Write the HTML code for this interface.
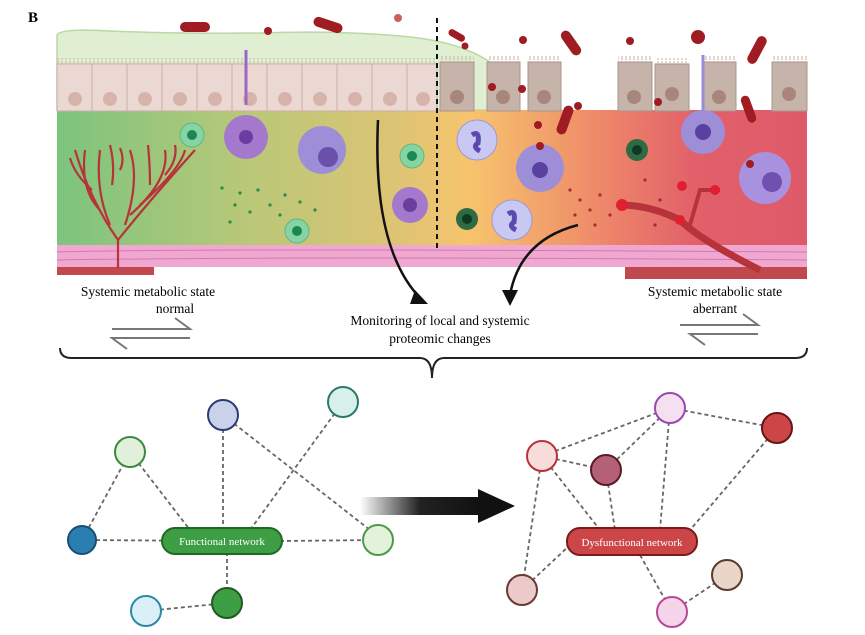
<!DOCTYPE html>
<html><head><style>
body{margin:0;background:#fff;}
svg{display:block;}
text{font-family:"Liberation Serif",serif;}
</style></head><body>
<svg width="865" height="635" viewBox="0 0 865 635" xmlns="http://www.w3.org/2000/svg">
<defs>
<linearGradient id="tis" x1="0" x2="1" y1="0" y2="0">
<stop offset="0" stop-color="#7cc47e"/>
<stop offset="0.25" stop-color="#b8c878"/>
<stop offset="0.45" stop-color="#dcc474"/>
<stop offset="0.55" stop-color="#f7c46c"/>
<stop offset="0.72" stop-color="#ee8a6a"/>
<stop offset="0.85" stop-color="#e2606a"/>
<stop offset="1" stop-color="#de5a6a"/>
</linearGradient>
<linearGradient id="arr" x1="0" x2="1">
<stop offset="0" stop-color="#fff"/>
<stop offset="0.5" stop-color="#222"/>
<stop offset="1" stop-color="#111"/>
</linearGradient>
<pattern id="mv" width="4" height="6" patternUnits="userSpaceOnUse"><path d="M2,6 L2,1" stroke="#c9b0a8" stroke-width="1"/></pattern>
</defs>
<text x="28" y="22" font-size="15" font-weight="bold">B</text>
<path d="M57,35 Q60,28 110,31 Q180,34 260,33 Q340,30 410,37 Q460,42 490,62 L490,110 L57,110Z" fill="#e0efd2" stroke="#b8d8a4" stroke-width="1.5"/>
<rect x="57" y="110" width="750" height="140" fill="url(#tis)"/>
<rect x="57" y="58" width="380" height="6" fill="url(#mv)"/>
<rect x="57" y="64" width="380" height="47" fill="#ecd8d2" stroke="#c9b0a8"/>
<g stroke="#c9b0a8" stroke-width="1">
<line x1="92" y1="64" x2="92" y2="111"/><line x1="127" y1="64" x2="127" y2="111"/><line x1="162" y1="64" x2="162" y2="111"/><line x1="197" y1="64" x2="197" y2="111"/><line x1="232" y1="64" x2="232" y2="111"/><line x1="267" y1="64" x2="267" y2="111"/><line x1="302" y1="64" x2="302" y2="111"/><line x1="337" y1="64" x2="337" y2="111"/><line x1="372" y1="64" x2="372" y2="111"/><line x1="407" y1="64" x2="407" y2="111"/>
</g>
<g fill="#d7b4aa">
<circle cx="75" cy="99" r="7"/><circle cx="110" cy="99" r="7"/><circle cx="145" cy="99" r="7"/><circle cx="180" cy="99" r="7"/><circle cx="215" cy="99" r="7"/><circle cx="250" cy="99" r="7"/><circle cx="285" cy="99" r="7"/><circle cx="320" cy="99" r="7"/><circle cx="355" cy="99" r="7"/><circle cx="390" cy="99" r="7"/><circle cx="423" cy="99" r="7"/>
</g>
<g fill="#c6b3aa" stroke="#a8958c">
<rect x="440" y="62" width="34" height="49"/><rect x="487" y="62" width="33" height="49"/><rect x="528" y="62" width="33" height="49"/>
<rect x="618" y="62" width="34" height="49"/><rect x="655" y="64" width="34" height="47"/><rect x="702" y="62" width="34" height="49"/><rect x="772" y="62" width="35" height="49"/>
</g>
<g fill="url(#mv)"><rect x="440" y="56" width="34" height="6"/><rect x="487" y="56" width="33" height="6"/><rect x="528" y="56" width="33" height="6"/><rect x="618" y="56" width="34" height="6"/><rect x="655" y="58" width="34" height="6"/><rect x="702" y="56" width="34" height="6"/><rect x="772" y="56" width="35" height="6"/></g>
<g fill="#a8867c"><circle cx="457" cy="97" r="7"/><circle cx="503" cy="97" r="7"/><circle cx="544" cy="97" r="7"/><circle cx="634" cy="97" r="7"/><circle cx="672" cy="94" r="7"/><circle cx="719" cy="97" r="7"/><circle cx="789" cy="94" r="7"/></g>
<rect x="57" y="245" width="750" height="22" fill="#f0a8d0"/>
<g stroke="#d07ab4" stroke-width="1" fill="none"><path d="M57,252 Q200,248 807,252"/><path d="M57,260 Q300,256 807,260"/></g>
<rect x="57" y="267" width="97" height="8" fill="#c0484e"/>
<rect x="625" y="267" width="182" height="12" fill="#c0484e"/>
<g stroke="#b8323a" stroke-width="2.2" fill="none">
<path d="M118,268 L118,240 Q90,200 75,150"/><path d="M118,240 Q150,200 195,150"/><path d="M110,225 Q95,190 100,150"/><path d="M125,225 Q140,180 130,150"/><path d="M130,215 Q170,180 165,150"/><path d="M100,210 Q80,190 85,150"/><path d="M140,205 Q180,170 185,150"/>
<path d="M92,190 Q75,175 70,158"/><path d="M112,185 Q115,165 110,145"/><path d="M150,185 Q150,165 148,145"/><path d="M165,175 Q178,160 175,145"/><path d="M120,170 Q125,160 120,148"/>
</g>
<path d="M760,270 Q700,240 680,220 Q650,205 620,205" stroke="#b8323a" stroke-width="7" fill="none"/>
<path d="M690,225 L700,190 L720,190" stroke="#b8323a" stroke-width="4" fill="none"/>
<g fill="#e02030"><circle cx="622" cy="205" r="6"/><circle cx="680" cy="220" r="5"/><circle cx="682" cy="186" r="5"/><circle cx="715" cy="190" r="5"/></g>
<circle cx="192" cy="135" r="12" fill="#86d4a4" stroke="#5ab884"/><circle cx="192" cy="135" r="5" fill="#1a8850"/>
<circle cx="412" cy="156" r="12" fill="#86d4a4" stroke="#5ab884"/><circle cx="412" cy="156" r="5" fill="#1a8850"/>
<circle cx="297" cy="231" r="12" fill="#86d4a4" stroke="#5ab884"/><circle cx="297" cy="231" r="5" fill="#1a8850"/>
<circle cx="467" cy="219" r="11" fill="#2e6a44"/><circle cx="467" cy="219" r="5" fill="#0e3a20"/>
<circle cx="637" cy="150" r="11" fill="#2e6a44"/><circle cx="637" cy="150" r="5" fill="#0e3a20"/>
<path d="M246,50 L246,105" stroke="#9a68c4" stroke-width="3"/>
<circle cx="246" cy="137" r="22" fill="#a478cc"/><circle cx="246" cy="137" r="7" fill="#6a3ea0"/>
<circle cx="322" cy="150" r="24" fill="#9e8ed8"/><circle cx="328" cy="157" r="10" fill="#6a50aa"/>
<circle cx="410" cy="205" r="18" fill="#a478cc"/><circle cx="410" cy="205" r="7" fill="#6a3ea0"/>
<circle cx="477" cy="140" r="20" fill="#c8c8f2" stroke="#9a9ad8"/><path d="M472,135 q8,-5 6,8 q-6,4 2,8" stroke="#5a4ab0" stroke-width="5" fill="none"/>
<circle cx="512" cy="220" r="20" fill="#c8c8f2" stroke="#9a9ad8"/><path d="M508,214 q8,-5 6,8 q-6,4 2,8" stroke="#5a4ab0" stroke-width="5" fill="none"/>
<circle cx="540" cy="168" r="24" fill="#9e8ed8"/><circle cx="540" cy="170" r="8" fill="#5a40a0"/>
<path d="M703,55 L703,115" stroke="#9a88d8" stroke-width="3"/>
<circle cx="703" cy="132" r="22" fill="#9e8ed8"/><circle cx="703" cy="132" r="8" fill="#5a40a0"/>
<circle cx="765" cy="178" r="26" fill="#a892e0"/><circle cx="772" cy="182" r="10" fill="#7050b0"/>
<g fill="#2a8a48"><circle cx="222" cy="188" r="1.6"/><circle cx="240" cy="193" r="1.6"/><circle cx="258" cy="190" r="1.6"/><circle cx="235" cy="205" r="1.6"/><circle cx="250" cy="212" r="1.6"/><circle cx="270" cy="205" r="1.6"/><circle cx="285" cy="195" r="1.6"/><circle cx="300" cy="202" r="1.6"/><circle cx="230" cy="222" r="1.6"/><circle cx="280" cy="215" r="1.6"/><circle cx="315" cy="210" r="1.6"/></g>
<g fill="#a82a30"><circle cx="570" cy="190" r="1.6"/><circle cx="580" cy="200" r="1.6"/><circle cx="590" cy="210" r="1.6"/><circle cx="575" cy="215" r="1.6"/><circle cx="595" cy="225" r="1.6"/><circle cx="600" cy="195" r="1.6"/><circle cx="610" cy="215" r="1.6"/><circle cx="645" cy="180" r="1.6"/><circle cx="660" cy="200" r="1.6"/><circle cx="655" cy="225" r="1.6"/></g>
<g fill="#9e1c22">
<rect x="180" y="22" width="30" height="10" rx="5"/>
<rect x="313" y="20" width="30" height="10" rx="5" transform="rotate(18 328 25)"/>
<rect x="448" y="32" width="18" height="7" rx="3.5" transform="rotate(30 457 35)"/>
<rect x="557" y="38" width="28" height="10" rx="5" transform="rotate(55 571 43)"/>
<rect x="742" y="45" width="30" height="10" rx="5" transform="rotate(-62 757 50)"/>
<rect x="735" y="105" width="28" height="9" rx="4.5" transform="rotate(70 749 109)"/>
<rect x="550" y="115" width="30" height="10" rx="5" transform="rotate(-70 565 120)"/>
<circle cx="268" cy="31" r="4"/><circle cx="398" cy="18" r="4" fill="#c86060"/><circle cx="465" cy="46" r="3.5"/><circle cx="523" cy="40" r="4"/><circle cx="492" cy="87" r="4"/><circle cx="522" cy="89" r="4"/><circle cx="538" cy="125" r="4"/><circle cx="578" cy="106" r="4"/><circle cx="630" cy="41" r="4"/><circle cx="698" cy="37" r="7"/><circle cx="658" cy="102" r="4"/><circle cx="750" cy="164" r="4"/><circle cx="540" cy="146" r="4"/>
</g>
<line x1="437" y1="18" x2="437" y2="250" stroke="#111" stroke-width="2" stroke-dasharray="5,4"/>
<path d="M378,120 Q372,250 422,300" stroke="#111" stroke-width="2.5" fill="none"/>
<path d="M415,290 L428,304 L410,304Z" fill="#111"/>
<path d="M578,225 Q520,240 510,295" stroke="#111" stroke-width="2.5" fill="none"/>
<path d="M502,290 L510,306 L518,290Z" fill="#111"/>
<text x="148" y="296" font-size="13.5" text-anchor="middle">Systemic metabolic state</text>
<text x="175" y="313" font-size="13.5" text-anchor="middle">normal</text>
<text x="715" y="296" font-size="13.5" text-anchor="middle">Systemic metabolic state</text>
<text x="715" y="313" font-size="13.5" text-anchor="middle">aberrant</text>
<text x="440" y="325" font-size="13.5" text-anchor="middle">Monitoring of local and systemic</text>
<text x="440" y="343" font-size="13.5" text-anchor="middle">proteomic changes</text>
<g stroke="#777" stroke-width="2" fill="none">
<path d="M112,329 L190,329 L175,318"/><path d="M190,338 L112,338 L127,349"/>
<path d="M680,325 L758,325 L743,314"/><path d="M758,334 L690,334 L705,345"/>
</g>
<path d="M60,348 Q60,358 72,358 L420,358 Q432,358 432,378 Q432,358 444,358 L795,358 Q807,358 807,348" stroke="#222" stroke-width="2" fill="none"/>
<g stroke="#666" stroke-width="1.8" stroke-dasharray="4,3" fill="none">
<line x1="82" y1="540" x2="222" y2="541"/><line x1="82" y1="540" x2="130" y2="452"/><line x1="130" y1="452" x2="190" y2="530"/>
<line x1="223" y1="415" x2="223" y2="530"/><line x1="223" y1="415" x2="370" y2="530"/><line x1="343" y1="402" x2="250" y2="530"/>
<line x1="280" y1="541" x2="378" y2="540"/><line x1="227" y1="552" x2="227" y2="603"/><line x1="146" y1="611" x2="227" y2="603"/>
</g>
<g stroke-width="2">
<circle cx="82" cy="540" r="14" fill="#2a7eb0" stroke="#1a4e74"/>
<circle cx="130" cy="452" r="15" fill="#e0f0da" stroke="#3a8a3e"/>
<circle cx="223" cy="415" r="15" fill="#cad2ea" stroke="#2a3a78"/>
<circle cx="343" cy="402" r="15" fill="#d8f0ea" stroke="#2a7a6a"/>
<circle cx="378" cy="540" r="15" fill="#e4f2dc" stroke="#4a9a4a"/>
<circle cx="227" cy="603" r="15" fill="#3e9e44" stroke="#1e5a24"/>
<circle cx="146" cy="611" r="15" fill="#daf0f6" stroke="#2a8aa8"/>
</g>
<rect x="162" y="528" width="120" height="26" rx="13" fill="#3e9e44" stroke="#1e6a24" stroke-width="2"/>
<text x="222" y="545" font-size="11" fill="#fff" text-anchor="middle">Functional network</text>
<rect x="360" y="497" width="120" height="18" fill="url(#arr)"/>
<path d="M478,489 L515,506 L478,523Z" fill="#111"/>
<g stroke="#666" stroke-width="1.8" stroke-dasharray="4,3" fill="none">
<line x1="542" y1="456" x2="670" y2="408"/><line x1="542" y1="456" x2="606" y2="470"/><line x1="542" y1="456" x2="600" y2="530"/>
<line x1="542" y1="456" x2="522" y2="590"/><line x1="670" y1="408" x2="606" y2="470"/><line x1="670" y1="408" x2="660" y2="530"/>
<line x1="670" y1="408" x2="777" y2="428"/><line x1="777" y1="428" x2="690" y2="530"/><line x1="606" y1="470" x2="615" y2="530"/>
<line x1="522" y1="590" x2="570" y2="545"/><line x1="640" y1="555" x2="672" y2="612"/><line x1="672" y1="612" x2="727" y2="575"/>
</g>
<g stroke-width="2">
<circle cx="542" cy="456" r="15" fill="#f8dcdc" stroke="#b83038"/>
<circle cx="606" cy="470" r="15" fill="#b46076" stroke="#5a1a2a"/>
<circle cx="670" cy="408" r="15" fill="#f4e0f0" stroke="#9a48b0"/>
<circle cx="777" cy="428" r="15" fill="#cc4648" stroke="#6a1418"/>
<circle cx="522" cy="590" r="15" fill="#eccaca" stroke="#6a3a34"/>
<circle cx="727" cy="575" r="15" fill="#ead6c8" stroke="#5a3a2a"/>
<circle cx="672" cy="612" r="15" fill="#f6d4ea" stroke="#b44a98"/>
</g>
<rect x="567" y="528" width="130" height="27" rx="13" fill="#cc4648" stroke="#7a1a1e" stroke-width="2"/>
<text x="632" y="546" font-size="11" fill="#fff" text-anchor="middle">Dysfunctional network</text>
</svg>
</body></html>
